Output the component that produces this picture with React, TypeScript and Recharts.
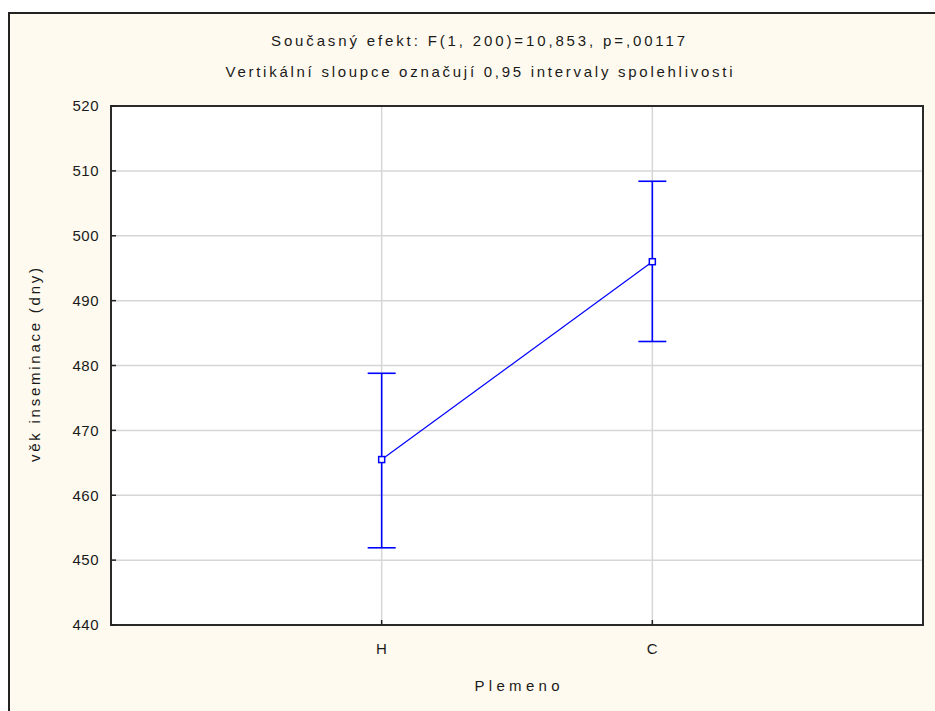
import React from 'react'
import { ComposedChart, Line, XAxis, YAxis, CartesianGrid, ErrorBar, ReferenceArea } from 'recharts'

// means with 0.95 confidence limits
const categories = ['H', 'C']
const categoryPositions = [1, 2]
const means = [465.5, 496.0]
const lowerLimits = [451.9, 483.7]
const upperLimits = [478.8, 508.4]
const yTicks = [440, 450, 460, 470, 480, 490, 500, 510, 520]

const titleLines = [
  'Současný efekt: F(1, 200)=10,853, p=,00117',
  'Vertikální sloupce označují 0,95 intervaly spolehlivosti',
]
const yLabel = 'věk inseminace (dny)'
const xLabel = 'Plemeno'

const data = categories.map((name, i) => ({
  name,
  pos: categoryPositions[i],
  mean: means[i],
  ci: [means[i] - lowerLimits[i], upperLimits[i] - means[i]],
}))

const BLUE = '#0000ff'
const INK = '#1a1a1a'
const FRAME = '#2a2a2a'
const tickStyle = { fontSize: 15, fill: INK, letterSpacing: 0.5 }

const SquareDot = (props: any) => {
  const { cx, cy } = props
  if (cx == null || cy == null) return null
  return <rect x={cx - 3} y={cy - 3} width={6} height={6} fill="#fff" stroke={BLUE} strokeWidth={1.5} />
}

export default function App() {
  return (
    <div
      style={{
        position: 'absolute',
        left: 0,
        top: 0,
        width: 935,
        height: 711,
        overflow: 'hidden',
        background: '#fff',
        fontFamily: '"Liberation Sans", Arial, sans-serif',
      }}
    >
      <div
        style={{
          position: 'absolute',
          left: 8,
          top: 12,
          width: 1000,
          height: 800,
          borderLeft: '2px solid #222',
          borderTop: '2px solid #222',
          background: '#fffaef',
        }}
      />
      <div style={{ position: 'absolute', left: 0, top: 0 }}>
        <ComposedChart width={935} height={711} data={data} margin={{ top: 106, right: 12, bottom: 0, left: 0 }}>
          <CartesianGrid fill="#fff" stroke="#d6d6d6" strokeWidth={1.5} />
          <XAxis
            type="number"
            dataKey="pos"
            domain={[0, 3]}
            ticks={categoryPositions}
            tickFormatter={(v) => categories[categoryPositions.indexOf(v)] ?? ''}
            height={86}
            tick={tickStyle}
            tickSize={-5}
            tickMargin={23}
            tickLine={{ stroke: '#222', strokeWidth: 1.5 }}
            axisLine={{ stroke: FRAME, strokeWidth: 2 }}
          />
          <YAxis
            domain={[440, 520]}
            ticks={yTicks}
            width={111}
            tick={tickStyle}
            tickSize={-5}
            tickMargin={17}
            tickLine={{ stroke: '#222', strokeWidth: 1.5 }}
            axisLine={{ stroke: FRAME, strokeWidth: 2 }}
          />
          <ReferenceArea
            x1={0}
            x2={3}
            y1={440}
            y2={520}
            fill="none"
            fillOpacity={0}
            stroke={FRAME}
            strokeWidth={2}
            strokeOpacity={1}
            ifOverflow="visible"
          />
          <Line
            dataKey="mean"
            stroke={BLUE}
            strokeWidth={1.2}
            dot={<SquareDot />}
            activeDot={false}
            isAnimationActive={false}
          >
            <ErrorBar dataKey="ci" direction="y" width={14} stroke={BLUE} strokeWidth={1.6} />
          </Line>
          <text x={478} y={46} textAnchor="middle" textLength={414} fontSize={15} fill={INK}>
            {titleLines[0]}
          </text>
          <text x={479} y={77} textAnchor="middle" textLength={507} fontSize={15} fill={INK}>
            {titleLines[1]}
          </text>
          <text
            transform="translate(40,365) rotate(-90)"
            textAnchor="middle"
            textLength={194}
            fontSize={15}
            fill={INK}
          >
            {yLabel}
          </text>
          <text x={517} y={691} textAnchor="middle" textLength={85} fontSize={15} fill={INK}>
            {xLabel}
          </text>
        </ComposedChart>
      </div>
    </div>
  )
}
